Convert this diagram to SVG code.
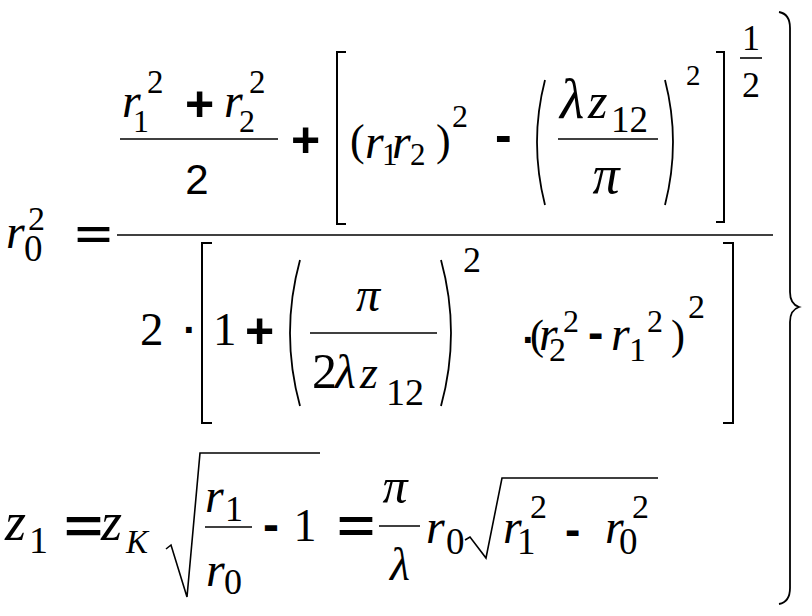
<svg xmlns="http://www.w3.org/2000/svg" width="812" height="616" viewBox="0 0 812 616">
<style>
.v{font-family:"Liberation Serif",serif;font-style:italic;fill:#000}
.n{font-family:"Liberation Serif",serif;fill:#000}
.s{font-family:"Liberation Sans",sans-serif;fill:#000}
.op{font-family:"Liberation Sans",sans-serif;font-weight:bold;fill:#000}
.ln{stroke:#000;stroke-width:1.6;fill:none}
.br{stroke:#000;stroke-width:2;fill:none;stroke-linecap:square}
.pa{stroke:#000;stroke-width:1.8;fill:none}
</style>
<rect width="812" height="616" fill="#fff"/>

<g id="lhs1">
<text class="v" x="6" y="248" font-size="48">r</text>
<text class="n" x="24" y="261" font-size="37">0</text>
<text class="n" x="28" y="230" font-size="34">2</text>
<text class="op" x="75" y="248" font-size="38" textLength="37" lengthAdjust="spacingAndGlyphs">=</text>
</g>

<line class="ln" x1="117" y1="235" x2="773" y2="235" stroke-width="2"/>

<g id="numerator">
<text class="v" x="122" y="117" font-size="48">r</text>
<text class="n" x="133" y="132" font-size="32">1</text>
<text class="n" x="147" y="93" font-size="33">2</text>
<text class="op" x="185" y="121" font-size="50">+</text>
<text class="v" x="224" y="117" font-size="48">r</text>
<text class="n" x="239" y="132" font-size="32">2</text>
<text class="n" x="249" y="93" font-size="33">2</text>
<line class="ln" x1="120" y1="139" x2="278" y2="139"/>
<text class="s" x="197" y="194" font-size="42" text-anchor="middle">2</text>

<text class="op" x="291" y="157" font-size="50">+</text>
<path class="br" d="M345,52 H337 V224 H345"/>
<text class="n" x="350" y="155" font-size="44">(</text>
<text class="v" x="365" y="158" font-size="48">r</text>
<text class="n" x="382" y="165" font-size="31">1</text>
<text class="v" x="392" y="158" font-size="48">r</text>
<text class="n" x="410" y="165" font-size="31">2</text>
<text class="n" x="436" y="155" font-size="44">)</text>
<text class="n" x="452" y="127" font-size="32">2</text>
<text class="op" x="495" y="152" font-size="50">-</text>
<path class="pa" d="M545,80 Q529,142 545,205"/>
<text class="v" x="560" y="118" font-size="56">λ</text>
<text class="v" x="588" y="118" font-size="50">z</text>
<text class="n" x="611" y="132" font-size="37">12</text>
<line class="ln" x1="558" y1="139" x2="658" y2="139"/>
<text class="v" x="606" y="193" font-size="54" text-anchor="middle">π</text>
<path class="pa" d="M665,80 Q681,142 665,205"/>
<text class="n" x="686" y="85" font-size="29">2</text>
<path class="br" d="M717,52 H724 V222 H717"/>
<text class="n" x="751" y="50" font-size="36" text-anchor="middle">1</text>
<line class="ln" x1="740" y1="58" x2="762" y2="58" stroke-width="1.3"/>
<text class="n" x="751" y="97" font-size="36" text-anchor="middle">2</text>
</g>

<g id="denominator">
<text class="n" x="140" y="345" font-size="47">2</text>
<text class="op" x="190" y="344" font-size="40" text-anchor="middle">·</text>
<path class="br" d="M211,243 H202 V423 H211"/>
<text class="n" x="213" y="345" font-size="47">1</text>
<text class="op" x="245" y="348" font-size="50">+</text>
<path class="pa" d="M300,260 Q280,333 300,406"/>
<text class="v" x="368" y="311" font-size="48" text-anchor="middle">π</text>
<line class="ln" x1="310" y1="333" x2="437" y2="333"/>
<text class="n" x="312" y="388" font-size="50">2</text>
<text class="v" x="335" y="388" font-size="48">λ</text>
<text class="v" x="360" y="388" font-size="46">z</text>
<text class="n" x="386" y="405" font-size="38">12</text>
<path class="pa" d="M441,260 Q461,333 441,406"/>
<text class="n" x="463" y="272" font-size="36">2</text>
<text class="op" x="529" y="354" font-size="40" text-anchor="middle">·</text>
<text class="n" x="530" y="349" font-size="42">(</text>
<text class="v" x="539" y="350" font-size="48">r</text>
<text class="n" x="549" y="361" font-size="34">2</text>
<text class="n" x="563" y="332" font-size="32">2</text>
<text class="op" x="588" y="348" font-size="46">-</text>
<text class="v" x="611" y="350" font-size="48">r</text>
<text class="n" x="629" y="361" font-size="34">1</text>
<text class="n" x="647" y="332" font-size="32">2</text>
<text class="n" x="671" y="349" font-size="42">)</text>
<text class="n" x="688" y="318" font-size="34">2</text>
<path class="br" d="M724,243 H733 V423 H724"/>
</g>

<g id="eq2">
<text class="v" x="5" y="540" font-size="54">z</text>
<text class="n" x="29" y="553" font-size="38">1</text>
<text class="op" x="64" y="543" font-size="48" textLength="39" lengthAdjust="spacingAndGlyphs">=</text>
<text class="v" x="101" y="540" font-size="54">z</text>
<text class="v" x="126" y="553" font-size="33">K</text>
<path class="ln" d="M166,549 L171,545 L187,597 L200,453 H320" stroke-width="1.8"/>
<text class="v" x="205" y="512" font-size="48">r</text>
<text class="n" x="225" y="521" font-size="36">1</text>
<line class="ln" x1="205" y1="527" x2="252" y2="527"/>
<text class="v" x="206" y="586" font-size="48">r</text>
<text class="n" x="224" y="594" font-size="36">0</text>
<text class="op" x="263" y="541" font-size="48">-</text>
<text class="n" x="305" y="541" font-size="46" text-anchor="middle">1</text>
<text class="op" x="337" y="542" font-size="46" textLength="38" lengthAdjust="spacingAndGlyphs">=</text>
<text class="v" x="395" y="503" font-size="50" text-anchor="middle">π</text>
<line class="ln" x1="379" y1="526" x2="420" y2="526"/>
<text class="v" x="400" y="580" font-size="46" text-anchor="middle">λ</text>
<text class="v" x="426" y="543" font-size="48">r</text>
<text class="n" x="446" y="554" font-size="37">0</text>
<path class="ln" d="M465,540 L470,537 L486,558 L502,478 H658" stroke-width="1.8"/>
<text class="v" x="503" y="543" font-size="48">r</text>
<text class="n" x="517" y="554" font-size="37">1</text>
<text class="n" x="530" y="518" font-size="34">2</text>
<text class="op" x="565" y="545" font-size="46">-</text>
<text class="v" x="605" y="543" font-size="48">r</text>
<text class="n" x="619" y="554" font-size="37">0</text>
<text class="n" x="632" y="518" font-size="34">2</text>
</g>

<path id="brace" class="pa" d="M779,12 Q790,14 790,28 V292 Q790,304 799,307 Q790,310 790,322 V588 Q790,602 779,604" stroke-width="2"/>
</svg>
